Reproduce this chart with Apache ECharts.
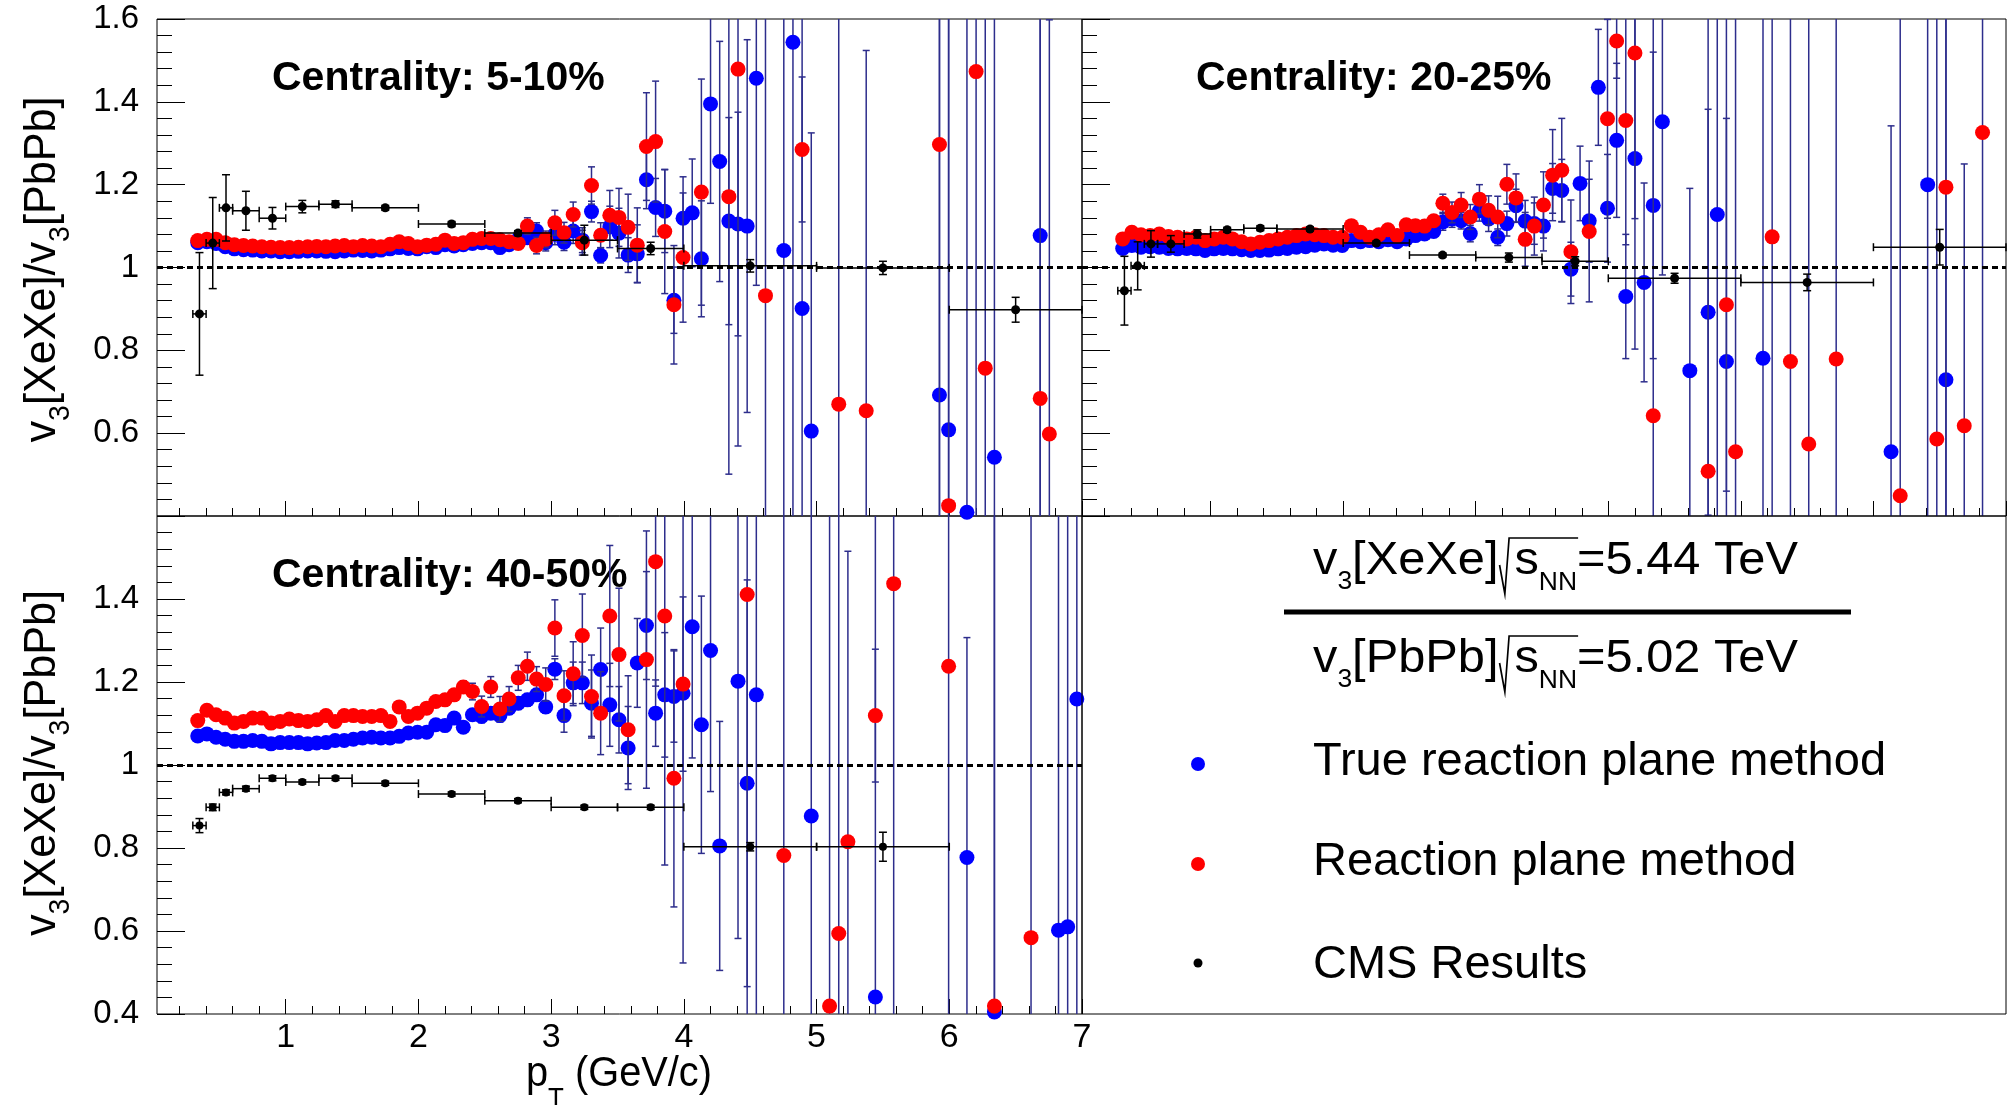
<!DOCTYPE html>
<html>
<head>
<meta charset="utf-8">
<script src="https://cdn.jsdelivr.net/npm/echarts@6.0.0/dist/echarts.min.js"></script>
<style>
html,body{margin:0;padding:0;background:#ffffff;}
#chart{width:2012px;height:1105px;}
</style>
</head>
<body>
<div id="chart"></div>
<script>
const N = null;
// pT bin centres shared by the simulated series (GeV/c)
const ptBins = [
0.337,0.406,0.475,0.544,0.613,0.682,0.751,0.820,0.889,0.958,
1.027,1.096,1.165,1.234,1.303,1.372,1.441,1.510,1.579,1.648,
1.717,1.786,1.855,1.924,1.993,2.062,2.131,2.200,2.269,2.338,
2.407,2.476,2.545,2.614,2.683,2.752,2.821,2.890,2.959,3.028,
3.097,3.166,3.235,3.304,3.373,3.442,3.511,3.580,3.649,3.718,
3.787,3.856,3.925,3.994,4.063,4.132,4.201,4.270,4.339,4.408,
4.477,4.546,4.615,4.684,4.753,4.822,4.891,4.960,5.029,5.098,
5.167,5.236,5.305,5.374,5.443,5.512,5.581,5.650,5.719,5.788,
5.857,5.926,5.995,6.064,6.133,6.202,6.271,6.340,6.409,6.478,
6.547,6.616,6.685,6.754,6.823,6.892,6.961];

// ---- Centrality 5-10% ----
const c510True = [
1.060,1.062,1.058,1.050,1.045,1.043,1.042,1.040,1.040,1.038,
1.038,1.039,1.040,1.040,1.039,1.038,1.040,1.042,1.041,1.040,
1.042,1.045,1.048,1.046,1.045,1.050,1.048,1.055,1.052,1.055,
1.058,1.060,1.060,1.048,1.055,1.068,1.072,1.088,1.060,1.080,
1.061,1.088,1.066,1.135,1.029,1.098,1.083,1.030,1.033,1.212,
1.145,1.136,0.921,1.119,1.132,1.021,1.395,1.256,1.112,1.105,
1.100,1.457,N,N,1.041,1.544,0.901,0.605,N,N,
N,N,N,N,N,N,N,N,N,N,
N,0.692,0.608,N,0.409,N,N,0.542,N,N,
N,N,1.077,N,N,N,N];
const c510TrueErr = [
.006,.006,.006,.006,.006,.006,.006,.006,.006,.006,
.006,.006,.006,.006,.006,.006,.006,.006,.006,.006,
.006,.006,.006,.006,.006,.006,.006,.006,.006,.006,
.006,.010,.010,.010,.010,.010,.015,.020,.020,.025,
.020,.030,.030,.025,.018,.050,.060,.042,.070,.070,
.070,.100,.080,.100,.130,.140,.240,.290,.250,.270,
.450,.500,N,N,1.5,1.5,1.5,.720,N,N,
N,N,N,N,N,N,N,N,N,N,
N,1.5,1.5,N,1.5,N,N,1.5,N,N,
N,N,1.5,N,N,N,N];
const c510Rp = [
1.065,1.068,1.068,1.060,1.055,1.053,1.052,1.050,1.049,1.048,
1.048,1.049,1.050,1.051,1.050,1.052,1.053,1.050,1.053,1.052,
1.050,1.056,1.062,1.058,1.050,1.054,1.056,1.066,1.058,1.060,
1.068,1.070,1.070,1.067,1.062,1.058,1.100,1.053,1.068,1.108,
1.084,1.128,1.060,1.198,1.078,1.126,1.121,1.097,1.054,1.292,
1.304,1.087,0.910,1.024,N,1.182,N,N,1.171,1.479,
N,N,0.932,N,N,N,1.285,N,N,N,
0.670,N,N,0.654,N,N,N,N,N,N,
N,1.297,0.425,N,N,1.473,0.757,N,N,N,
N,N,0.684,0.598,N,N,N];
const c510RpErr = [
.006,.006,.006,.006,.006,.006,.006,.006,.006,.006,
.006,.006,.006,.006,.006,.006,.006,.006,.006,.006,
.006,.006,.006,.006,.006,.006,.006,.006,.006,.006,
.006,.010,.010,.010,.010,.010,.020,.020,.020,.030,
.025,.030,.030,.045,.030,.060,.070,.080,.090,.130,
.146,.150,.143,.156,N,.273,N,N,.670,.910,
N,N,1.5,N,N,N,.175,N,N,N,
1.5,N,N,.870,N,N,N,N,N,N,
N,1.5,1.5,N,N,1.5,1.5,N,N,N,
N,N,1.5,1.0,N,N,N];

// ---- Centrality 20-25% ----
const c2025True = [
1.046,1.053,1.049,1.050,1.049,1.046,1.045,1.046,1.045,1.041,
1.045,1.046,1.045,1.043,1.041,1.041,1.042,1.045,1.046,1.049,
1.050,1.054,1.057,1.054,1.053,1.065,1.062,1.065,1.062,1.067,
1.062,1.069,1.077,1.081,1.087,1.110,1.117,1.113,1.082,1.137,
1.117,1.073,1.106,1.149,1.112,1.106,1.100,1.191,1.186,0.996,
1.203,1.113,1.435,1.143,1.307,0.930,1.263,0.964,1.150,1.352,
N,N,0.751,N,0.892,1.128,0.773,N,N,N,
0.781,N,N,N,N,N,N,N,N,N,
N,N,N,N,0.555,N,N,N,1.200,N,
0.729,N,N,N,N,N,N];
const c2025TrueErr = [
.006,.006,.006,.006,.006,.006,.006,.006,.006,.006,
.006,.006,.006,.006,.006,.006,.006,.006,.006,.006,
.006,.006,.006,.006,.006,.006,.006,.006,.006,.006,
.006,.010,.010,.010,.010,.020,.020,.020,.020,.025,
.030,.020,.030,.040,.050,.050,.060,.060,.075,.065,
.090,.100,.140,.130,.186,.150,.460,.240,.370,.370,
N,N,.440,N,.490,1.5,1.5,N,N,N,
1.5,N,N,N,N,N,N,N,N,N,
N,N,N,N,.787,N,N,N,1.5,N,
1.5,N,N,N,N,N,N];
const c2025Rp = [
1.069,1.085,1.079,1.077,1.081,1.075,1.073,1.069,1.073,1.065,
1.069,1.073,1.069,1.062,1.057,1.061,1.065,1.069,1.073,1.077,
1.081,1.079,1.077,1.073,1.073,1.101,1.085,1.073,1.079,1.091,
1.077,1.103,1.101,1.100,1.113,1.155,1.133,1.151,1.122,1.165,
1.138,1.122,1.201,1.168,1.068,1.100,1.151,1.223,1.235,1.038,
N,1.087,N,1.359,1.547,1.355,1.518,N,0.642,N,
N,N,N,N,0.508,N,0.910,0.555,N,N,
N,1.074,N,0.773,N,0.574,N,N,0.779,N,
N,N,N,N,N,0.449,N,N,N,0.586,
1.194,N,0.618,N,1.326,N,N];
const c2025RpErr = [
.006,.006,.006,.006,.006,.006,.006,.006,.006,.006,
.006,.006,.006,.006,.006,.006,.006,.006,.006,.006,
.006,.006,.006,.006,.006,.006,.006,.006,.006,.006,
.006,.012,.012,.012,.012,.022,.025,.030,.030,.035,
.035,.050,.048,.058,.065,.070,.080,.110,.125,.125,
N,.170,N,.240,.090,.300,.400,N,1.5,N,
N,N,N,N,1.5,N,.450,1.5,N,N,
N,1.5,N,1.5,N,1.5,N,N,1.5,N,
N,N,N,N,N,1.5,N,N,N,1.5,
1.5,N,.632,N,1.5,N,N];

// ---- Centrality 40-50% ----
const c4050True = [
1.070,1.075,1.067,1.062,1.057,1.057,1.059,1.057,1.051,1.054,
1.054,1.054,1.051,1.053,1.054,1.059,1.059,1.062,1.065,1.067,
1.065,1.065,1.069,1.077,1.079,1.079,1.097,1.095,1.113,1.091,
1.121,1.117,1.125,1.119,1.137,1.149,1.157,1.169,1.140,1.231,
1.119,1.198,1.198,1.149,1.230,1.145,1.109,1.041,1.246,1.336,
1.125,1.169,1.165,1.173,1.333,1.097,1.276,0.805,N,1.202,
0.956,1.169,N,N,N,N,N,0.877,N,N,
N,N,N,N,0.441,N,N,N,N,N,
N,N,N,N,0.777,N,N,0.405,N,N,
N,N,N,N,0.602,0.610,1.159];
const c4050TrueErr = [
.006,.006,.006,.006,.006,.006,.006,.006,.006,.006,
.006,.006,.006,.006,.006,.006,.006,.006,.006,.006,
.006,.006,.006,.006,.006,.006,.006,.006,.006,.006,
.010,.015,.015,.015,.015,.015,.015,.015,.015,.025,
.040,.050,.050,.080,.100,.100,.080,.100,.107,.130,
.080,.150,.110,.650,.316,.310,.340,.300,N,.620,
.490,1.5,N,N,N,N,N,1.5,N,N,
N,N,N,N,1.5,N,N,N,N,N,
N,N,N,N,.530,N,N,1.5,N,N,
N,N,N,N,1.5,1.5,1.5];
const c4050Rp = [
1.107,1.132,1.121,1.113,1.101,1.105,1.113,1.113,1.101,1.105,
1.111,1.107,1.105,1.109,1.119,1.105,1.119,1.119,1.117,1.117,
1.119,1.105,1.140,1.117,1.125,1.137,1.153,1.157,1.169,1.188,
1.177,1.141,1.188,1.135,1.159,1.210,1.238,1.207,1.194,1.330,
1.167,1.220,1.312,1.165,1.125,1.359,1.266,1.085,N,1.254,
1.490,1.359,0.968,1.195,N,N,N,N,N,N,
1.411,N,N,N,0.782,N,N,N,N,0.419,
0.594,0.815,N,N,1.119,N,1.437,N,N,N,
N,N,1.238,N,N,N,N,0.419,N,N,
N,0.584,N,N,N,N,N];
const c4050RpErr = [
.008,.008,.008,.008,.008,.008,.008,.008,.008,.008,
.008,.008,.008,.008,.008,.008,.008,.008,.008,.008,
.008,.008,.008,.008,.008,.008,.008,.008,.008,.015,
.020,.025,.025,.030,.030,.030,.034,.030,.040,.068,
.060,.077,.100,.100,.100,.170,.160,.130,N,.310,
.300,.600,.310,.210,N,N,N,N,N,N,
1.5,N,N,N,1.5,N,N,N,N,1.5,
1.5,.700,N,N,.160,N,1.5,N,N,N,
N,N,1.5,N,N,N,N,1.5,N,N,
N,1.5,N,N,N,N,N];

// ---- CMS measurements ----
const cmsPt = [0.35,0.45,0.55,0.7,0.9,1.125,1.375,1.75,2.25,2.75,3.25,3.75,4.5,5.5,6.5];
const cmsPtHalfWidth = [0.05,0.05,0.05,0.1,0.1,0.125,0.125,0.25,0.25,0.25,0.25,0.25,0.5,0.5,0.5];
const cms510 = [0.888,1.059,1.144,1.137,1.119,1.147,1.153,1.144,1.105,1.083,1.066,1.046,1.004,0.999,0.898];
const cms510Err = [0.148,0.110,0.080,0.047,0.026,0.015,0.008,0.006,0.006,0.006,0.036,0.015,0.015,0.016,0.030];
const cms2025 = [0.944,1.004,1.057,1.057,1.081,1.091,1.095,1.093,1.059,1.030,1.024,1.015,0.974,0.964,1.049];
const cms2025Err = [0.083,0.058,0.032,0.020,0.010,0.006,0.006,0.005,0.005,0.005,0.011,0.011,0.012,0.020,0.043];
const cms4050 = [0.854,0.898,0.934,0.943,0.968,0.959,0.968,0.956,0.930,0.914,0.898,0.898,0.803,0.803];
const cms4050Err = [0.017,0.008,0.006,0.006,0.006,0.005,0.005,0.005,0.005,0.005,0.005,0.005,0.010,0.035];

// ---- axis ticks / labels ----
const xTickValues = [1,2,3,4,5,6,7];
const xMinorTickValues = [0.2,0.4,0.6,0.8,1.2,1.4,1.6,1.8,2.2,2.4,2.6,2.8,3.2,3.4,3.6,3.8,4.2,4.4,4.6,4.8,5.2,5.4,5.6,5.8,6.2,6.4,6.6,6.8];
const panelTitles = ['Centrality: 5-10%','Centrality: 20-25%','Centrality: 40-50%'];
const legendLabels = ['True reaction plane method','Reaction plane method','CMS Results'];

// ================= rendering =================
const FONT = '"Liberation Sans", Arial, Helvetica, sans-serif';
const ERR_COLOR = '#2d2d8c';
const BLUE = '#0000ff', RED = '#ff0000', BLACK = '#000000';

function pts(vals){const o=[];vals.forEach((v,i)=>{if(v!==null)o.push([ptBins[i],v]);});return o;}
function errPts(vals,errs){const o=[];vals.forEach((v,i)=>{if(v!==null)o.push([ptBins[i],v,errs[i]||0,0]);});return o;}
function cmsErrPts(vals,errs){return vals.map((v,i)=>[cmsPt[i],v,errs[i],cmsPtHalfWidth[i]]);}
function cmsMarks(vals){return vals.map((v,i)=>[cmsPt[i],v]);}

function errSeries(gi,data,color,capW,lw,z){
  return {type:'custom',xAxisIndex:gi,yAxisIndex:gi,z:z,silent:true,animation:false,
    renderItem:function(params,api){
      const x=api.value(0),y=api.value(1),e=api.value(2)||0,xe=api.value(3)||0;
      const cs=params.coordSys;
      const L=cs.x,R=cs.x+cs.width,T=cs.y,B=cs.y+cs.height;
      const c=api.coord([x,y]);
      const st={stroke:color,lineWidth:lw};
      const ch=[];
      if(e>0 && c[0]>=L && c[0]<=R){
        const yt=api.coord([x,y+e])[1], yb=api.coord([x,y-e])[1];
        const a=Math.max(yt,T), b=Math.min(yb,B);
        if(b>a){
          ch.push({type:'line',shape:{x1:c[0],y1:a,x2:c[0],y2:b},style:st});
          if(yt>=T) ch.push({type:'line',shape:{x1:c[0]-capW,y1:yt,x2:c[0]+capW,y2:yt},style:st});
          if(yb<=B) ch.push({type:'line',shape:{x1:c[0]-capW,y1:yb,x2:c[0]+capW,y2:yb},style:st});
        }
      }
      if(xe>0 && c[1]>=T && c[1]<=B){
        const xl=api.coord([x-xe,y])[0], xr=api.coord([x+xe,y])[0];
        const a=Math.max(xl,L), b=Math.min(xr,R);
        ch.push({type:'line',shape:{x1:a,y1:c[1],x2:b,y2:c[1]},style:st});
        if(xl>=L) ch.push({type:'line',shape:{x1:xl,y1:c[1]-capW,x2:xl,y2:c[1]+capW},style:st});
        if(xr<=R) ch.push({type:'line',shape:{x1:xr,y1:c[1]-capW,x2:xr,y2:c[1]+capW},style:st});
      }
      return {type:'group',children:ch};
    },
    data:data};
}

function panelSeries(gi,tv,te,rv,re,cv,ce,cmsSize){
  return [
    errSeries(gi,errPts(tv,te),ERR_COLOR,3.5,1.5,2),
    {type:'scatter',xAxisIndex:gi,yAxisIndex:gi,z:3,silent:true,animation:false,
     symbol:'circle',symbolSize:15,itemStyle:{color:BLUE,opacity:1},data:pts(tv),
     markLine:{silent:true,animation:false,symbol:['none','none'],label:{show:false},
       lineStyle:{color:BLACK,width:3,type:[6,4]},data:[{yAxis:1}]}},
    errSeries(gi,errPts(rv,re),ERR_COLOR,3.5,1.5,4),
    {type:'scatter',xAxisIndex:gi,yAxisIndex:gi,z:5,silent:true,animation:false,
     symbol:'circle',symbolSize:15,itemStyle:{color:RED,opacity:1},data:pts(rv)},
    errSeries(gi,cmsErrPts(cv,ce),BLACK,4,1.5,6),
    {type:'scatter',xAxisIndex:gi,yAxisIndex:gi,z:7,silent:true,animation:false,
     symbol:'circle',symbolSize:cmsSize,itemStyle:{color:BLACK,opacity:1},data:cmsMarks(cv)}
  ];
}

const gridRects=[
  {left:157,top:19,width:925,height:497},
  {left:1082,top:19,width:924,height:497},
  {left:157,top:516,width:925,height:498}];
const grids=gridRects.map(g=>Object.assign({show:true,borderColor:BLACK,borderWidth:1,
  backgroundColor:'transparent',containLabel:false,outerBoundsMode:'none'},g));

function xMain(gi,showLabels){
  return {type:'value',gridIndex:gi,min:0.03,max:7,position:'bottom',
    axisLine:{show:false},splitLine:{show:false},
    axisTick:{show:true,inside:true,length:15,customValues:xTickValues,lineStyle:{color:BLACK,width:1}},
    axisLabel:{show:showLabels,customValues:xTickValues,color:BLACK,fontSize:34,fontFamily:FONT,margin:7,
      formatter:v=>String(Math.round(v))}};
}
function xMinor(gi){
  return {type:'value',gridIndex:gi,min:0.03,max:7,position:'bottom',
    axisLine:{show:false},splitLine:{show:false},
    axisTick:{show:true,inside:true,length:8,customValues:xMinorTickValues,lineStyle:{color:BLACK,width:1}},
    axisLabel:{show:false}};
}
function yAx(gi,hideVal,showLabels){
  return {type:'value',gridIndex:gi,min:0.4,max:1.6,interval:0.2,
    axisLine:{show:false},splitLine:{show:false},
    axisTick:{show:true,inside:true,length:28,lineStyle:{color:BLACK,width:1}},
    minorTick:{show:true,splitNumber:5,length:15,lineStyle:{color:BLACK,width:1}},
    minorSplitLine:{show:false},
    axisLabel:{show:showLabels,color:BLACK,fontSize:33,fontFamily:FONT,margin:18,
      showMinLabel:true,showMaxLabel:true,
      formatter:v=>{const r=Math.round(v*10)/10; if(Math.abs(r-hideVal)<1e-6) return ''; return String(r);}}};
}

// ---- text helpers ----
const mctx=document.createElement('canvas').getContext('2d');
function fontStr(size,weight){return (weight||'normal')+' '+size+'px '+FONT;}
function measure(t,size,weight){mctx.font=fontStr(size,weight);return mctx.measureText(t).width;}
// build a run of text pieces on a common baseline (y=0), starting at x=0
function buildRun(pieces){
  let x=0;const els=[];const marks={};
  pieces.forEach(p=>{
    if(p.gap){marks[p.id||'gap']=x;x+=p.gap;return;}
    const w=measure(p.t,p.size,p.weight);
    els.push({type:'text',x:x,y:(p.dy||0)-0.35*p.size,silent:true,
      style:{text:p.t,font:fontStr(p.size,p.weight),fill:BLACK,align:'left',verticalAlign:'middle'}});
    if(p.id){marks[p.id+'0']=x;marks[p.id+'1']=x+w;}
    x+=w;
  });
  return {els:els,width:x,marks:marks};
}

const graphics=[];
// panel titles
const titlePos=[[272,93],[1196,93],[272,590]];
panelTitles.forEach((t,i)=>{
  const r=buildRun([{t:t,size:41,weight:'bold'}]);
  graphics.push({type:'group',x:titlePos[i][0],y:titlePos[i][1],children:r.els,silent:true});
});
// y-axis titles (rotated)
[[58,269.5],[58,763]].forEach(pos=>{
  const r=buildRun([{t:'v',size:44},{t:'3',size:29,dy:13},{t:'[XeXe]/v',size:44},{t:'3',size:29,dy:13},{t:'[PbPb]',size:44}]);
  const target=346, sx=target/r.width;
  r.els.forEach(e=>{e.x-=r.width/2;});
  graphics.push({type:'group',x:pos[0],y:pos[1],rotation:Math.PI/2,children:[{type:'group',scaleX:sx,children:r.els}],silent:true});
});
// x-axis title
(function(){
  const r=buildRun([{t:'p',size:43},{t:'T',size:28,dy:20},{t:' (GeV/c)',size:43}]);
  const sx=186/r.width;
  graphics.push({type:'group',x:526,y:1089,scaleX:sx,children:r.els,silent:true});
})();
// legend box
graphics.push({type:'rect',shape:{x:1082,y:516,width:924,height:498},style:{fill:'none',stroke:BLACK,lineWidth:1},silent:true,z:10});
// ratio formula
function formulaLine(sys,energy,baseline){
  const r=buildRun([{t:'v',size:46},{t:'3',size:25,dy:14},{t:sys,size:46},{gap:15,id:'rad'},
    {t:'s',size:46,id:'s'},{t:'NN',size:25,dy:15,id:'nn'},{t:'='+energy+' TeV',size:46}]);
  const g=r.marks.rad, e=r.marks.nn1+1;
  const rad={type:'polyline',shape:{points:[[g+1,-12],[g+6,17],[g+10,-39],[e,-39]]},style:{stroke:BLACK,lineWidth:1.6,fill:'none'}};
  const sx=485/r.width;
  graphics.push({type:'group',x:1313,y:baseline,scaleX:sx,children:r.els.concat([rad]),silent:true});
}
formulaLine('[XeXe]','5.44',577);
formulaLine('[PbPb]','5.02',675);
graphics.push({type:'rect',shape:{x:1284,y:609.5,width:567,height:5},style:{fill:BLACK},silent:true});
// legend entries
const legendMarks=[{c:BLUE,r:7,y:764},{c:RED,r:7,y:864},{c:BLACK,r:4.5,y:963}];
const legendBase=[778,878,981];
legendLabels.forEach((t,i)=>{
  graphics.push({type:'circle',shape:{cx:1198,cy:legendMarks[i].y,r:legendMarks[i].r},style:{fill:legendMarks[i].c},silent:true});
  const r=buildRun([{t:t,size:47}]);
  graphics.push({type:'group',x:1313,y:legendBase[i],children:r.els,silent:true});
});

const option={
  backgroundColor:'#ffffff',
  animation:false,
  grid:grids,
  xAxis:[xMain(0,false),xMain(1,false),xMain(2,true),xMinor(0),xMinor(1),xMinor(2)],
  yAxis:[yAx(0,0.4,true),yAx(1,0.4,false),yAx(2,1.6,true)],
  series:[].concat(
    panelSeries(0,c510True,c510TrueErr,c510Rp,c510RpErr,cms510,cms510Err,9),
    panelSeries(1,c2025True,c2025TrueErr,c2025Rp,c2025RpErr,cms2025,cms2025Err,9),
    panelSeries(2,c4050True,c4050TrueErr,c4050Rp,c4050RpErr,cms4050,cms4050Err,8)
  ),
  graphic:graphics
};
const chart=echarts.init(document.getElementById('chart'),null,{renderer:'canvas'});
chart.setOption(option);
</script>
</body>
</html>
